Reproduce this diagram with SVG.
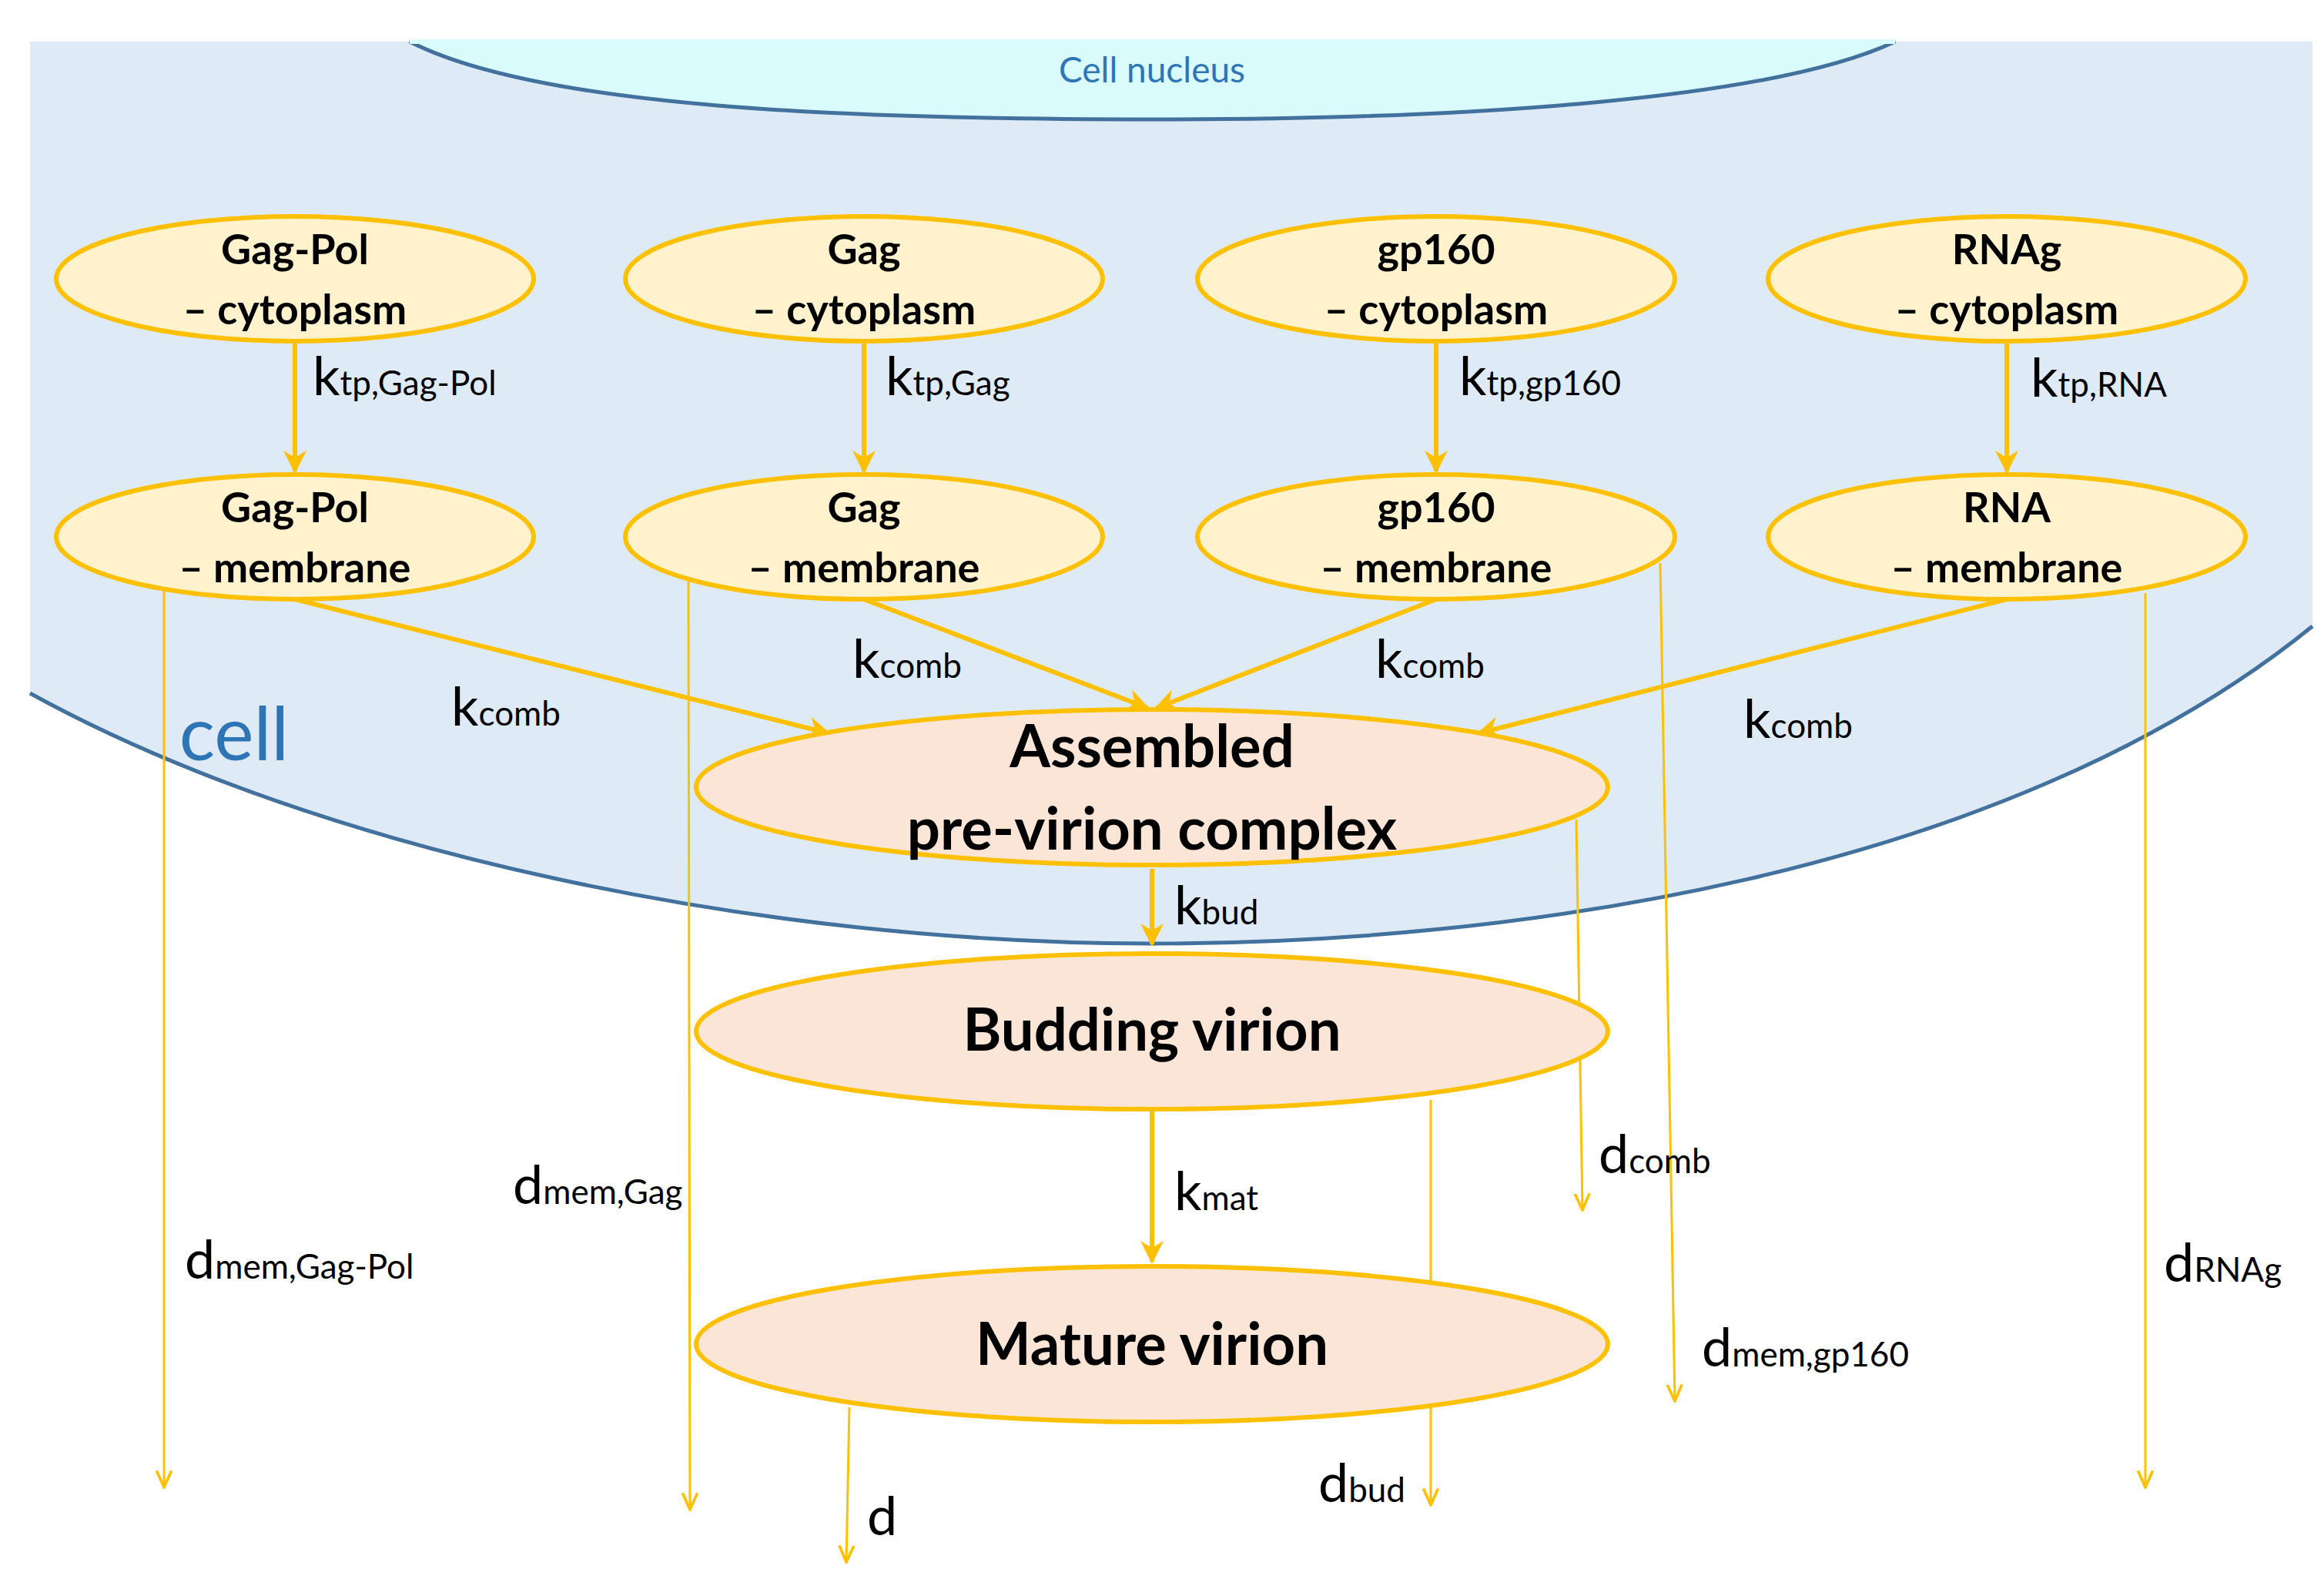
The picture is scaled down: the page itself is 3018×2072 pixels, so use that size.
<svg xmlns="http://www.w3.org/2000/svg" width="3018" height="2072" viewBox="0 0 3018 2072">
<style>
text{font-family:Lato,"Open Sans","Liberation Sans",sans-serif}
.n{fill:#fff2cc;stroke:#ffc000;stroke-width:6}
.v{fill:#fbe5d6;stroke:#ffc000;stroke-width:6}
.nt{font-weight:bold;font-size:54px;text-anchor:middle;fill:#000}
.vt{font-weight:bold;font-size:76px;text-anchor:middle;fill:#000}
.k{font-size:70px;fill:#000}
.s{font-size:44px}
.th{stroke:#ffc000;stroke-width:6;fill:none;marker-end:url(#a)}
.tn{stroke:#ffc000;stroke-width:3;fill:none;marker-end:url(#b)}
</style>
<defs>
<marker id="a" viewBox="0 0 10 10" refX="9" refY="5" markerWidth="5" markerHeight="5" orient="auto" markerUnits="strokeWidth"><path d="M0,0L10,5L0,10L3,5Z" fill="#ffc000"/></marker>
<marker id="b" viewBox="0 0 10 10" refX="9" refY="5" markerWidth="8" markerHeight="8" orient="auto" markerUnits="strokeWidth"><path d="M0,1L9,5L0,9" fill="none" stroke="#ffc000" stroke-width="1.5"/></marker>
</defs>
<rect width="3018" height="2072" fill="#fff"/>
<g id="cell">
<path d="M39,54H3003V813C2600,1140 1950,1225 1495,1225C1000,1225 420,1110 39,900Z" fill="#deebf7"/>
<path d="M3003,813C2600,1140 1950,1225 1495,1225C1000,1225 420,1110 39,900" fill="none" stroke="#41719c" stroke-width="5"/>
<text x="304" y="987" font-size="97" fill="#2e75b6" text-anchor="middle">cell</text>
</g>
<g id="nucleus">
<path d="M532,54C700,140 1100,155 1500,155C1900,155 2300,130 2461,54Z" fill="#d9fbfc" stroke="#41719c" stroke-width="5"/>
<path d="M532,54H2461" stroke="#d9fbfc" stroke-width="6"/>
<text x="1496" y="107" font-size="46" fill="#2e75b6" text-anchor="middle">Cell nucleus</text>
</g>
<g id="connectors">
<path class="th" d="M383,443V612"/>
<path class="th" d="M1122,443V612"/>
<path class="th" d="M1865,443V612"/>
<path class="th" d="M2606,443V612"/>
<path class="th" d="M383,778L1076,952"/>
<path class="th" d="M1122,778L1490,919"/>
<path class="th" d="M1865,778L1502,919"/>
<path class="th" d="M2606,778L1920,952"/>
<path class="th" d="M1496,1128V1226"/>
<path class="th" d="M1496,1442V1638"/>
<path class="tn" d="M213,766V1931"/>
<path class="tn" d="M894,755L896,1960"/>
<path class="tn" d="M2047,1064L2055,1571"/>
<path class="tn" d="M2156,731L2175,1819"/>
<path class="tn" d="M2786,770V1931"/>
<path class="tn" d="M1103,1827L1099,2028"/>
<path class="tn" d="M1858,1428V1954"/>
<text class="k" x="406" y="513">k<tspan class="s">tp,Gag-Pol</tspan></text>
<text class="k" x="1150" y="513">k<tspan class="s">tp,Gag</tspan></text>
<text class="k" x="1895" y="513">k<tspan class="s">tp,gp160</tspan></text>
<text class="k" x="2637" y="515">k<tspan class="s">tp,RNA</tspan></text>
<text class="k" x="586" y="942">k<tspan class="s">comb</tspan></text>
<text class="k" x="1107" y="880">k<tspan class="s">comb</tspan></text>
<text class="k" x="1786" y="880">k<tspan class="s">comb</tspan></text>
<text class="k" x="2264" y="958">k<tspan class="s">comb</tspan></text>
<text class="k" x="1525" y="1200">k<tspan class="s">bud</tspan></text>
<text class="k" x="1525" y="1571">k<tspan class="s">mat</tspan></text>
<text class="k" x="240" y="1660">d<tspan class="s">mem,Gag-Pol</tspan></text>
<text class="k" x="666" y="1563">d<tspan class="s">mem,Gag</tspan></text>
<text class="k" x="2076" y="1523">d<tspan class="s">comb</tspan></text>
<text class="k" x="2210" y="1774">d<tspan class="s">mem,gp160</tspan></text>
<text class="k" x="2810" y="1664">d<tspan class="s">RNAg</tspan></text>
<text class="k" x="1126" y="1993">d</text>
<text class="k" x="1712" y="1950">d<tspan class="s">bud</tspan></text>
</g>
<g id="gagpol-cyt"><ellipse class="n" cx="383" cy="362" rx="310" ry="81"/><text class="nt" x="383" y="343">Gag-Pol</text><text class="nt" x="383" y="421">– cytoplasm</text></g>
<g id="gag-cyt"><ellipse class="n" cx="1122" cy="362" rx="310" ry="81"/><text class="nt" x="1122" y="343">Gag</text><text class="nt" x="1122" y="421">– cytoplasm</text></g>
<g id="gp160-cyt"><ellipse class="n" cx="1865" cy="362" rx="310" ry="81"/><text class="nt" x="1865" y="343">gp160</text><text class="nt" x="1865" y="421">– cytoplasm</text></g>
<g id="rnag-cyt"><ellipse class="n" cx="2606" cy="362" rx="310" ry="81"/><text class="nt" x="2606" y="343">RNAg</text><text class="nt" x="2606" y="421">– cytoplasm</text></g>
<g id="gagpol-mem"><ellipse class="n" cx="383" cy="697" rx="310" ry="81"/><text class="nt" x="383" y="678">Gag-Pol</text><text class="nt" x="383" y="756">– membrane</text></g>
<g id="gag-mem"><ellipse class="n" cx="1122" cy="697" rx="310" ry="81"/><text class="nt" x="1122" y="678">Gag</text><text class="nt" x="1122" y="756">– membrane</text></g>
<g id="gp160-mem"><ellipse class="n" cx="1865" cy="697" rx="310" ry="81"/><text class="nt" x="1865" y="678">gp160</text><text class="nt" x="1865" y="756">– membrane</text></g>
<g id="rna-mem"><ellipse class="n" cx="2606" cy="697" rx="310" ry="81"/><text class="nt" x="2606" y="678">RNA</text><text class="nt" x="2606" y="756">– membrane</text></g>
<g id="assembled"><ellipse class="v" cx="1496" cy="1022" rx="592" ry="101"/><text class="vt" x="1496" y="996">Assembled</text><text class="vt" x="1496" y="1103">pre-virion complex</text></g>
<g id="budding"><ellipse class="v" cx="1496" cy="1339" rx="592" ry="101"/><text class="vt" x="1496" y="1364">Budding virion</text></g>
<g id="mature"><ellipse class="v" cx="1496" cy="1745" rx="592" ry="101"/><text class="vt" x="1496" y="1772">Mature virion</text></g>
</svg>
